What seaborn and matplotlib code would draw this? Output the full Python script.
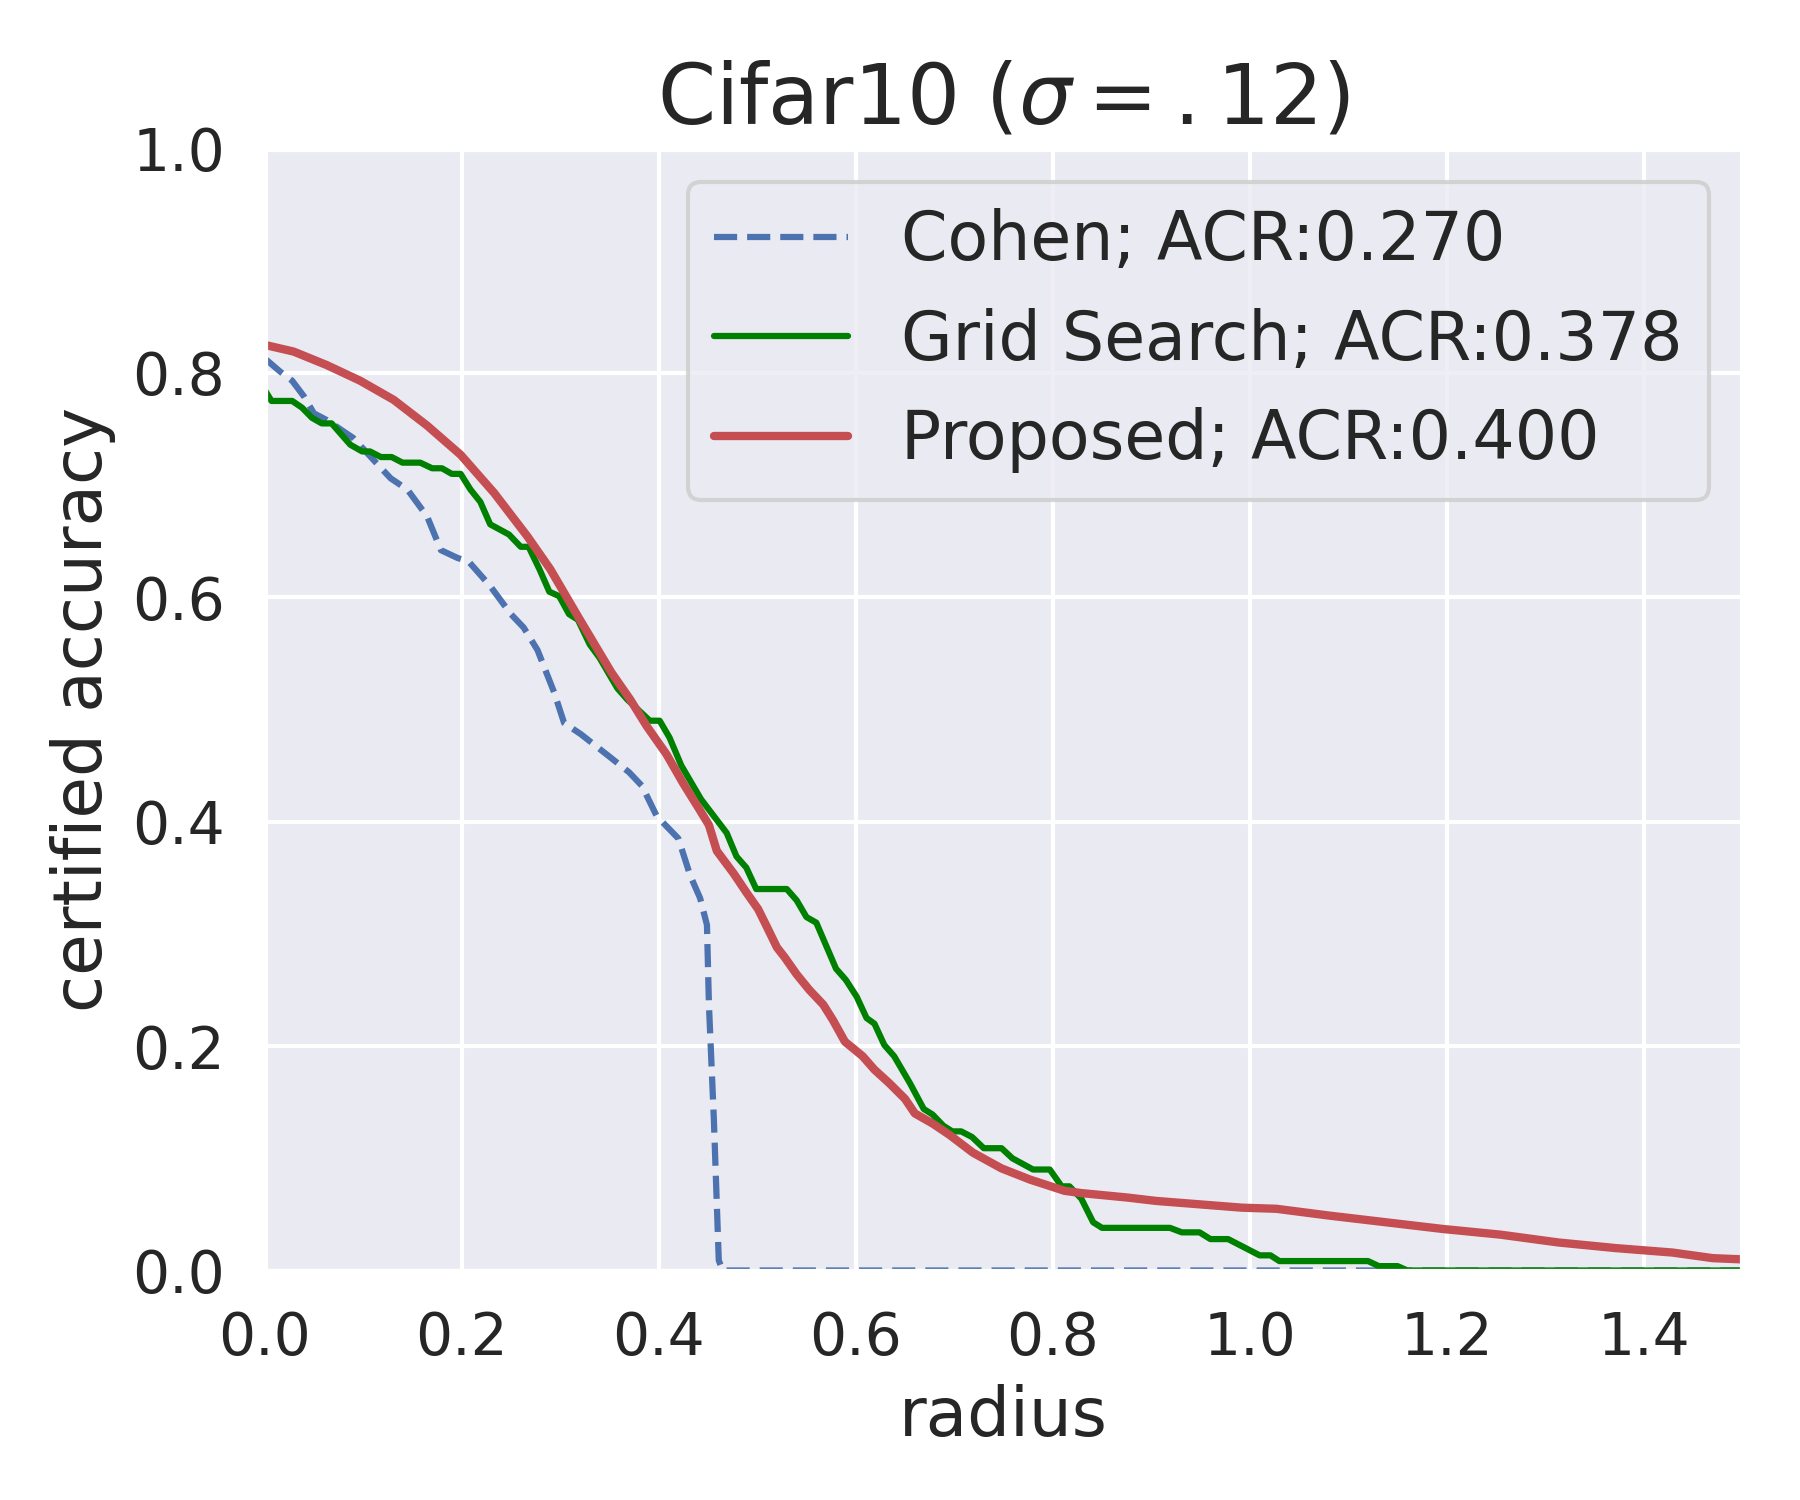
import numpy as np
import pandas as pd
import matplotlib
matplotlib.use("Agg")
import matplotlib.pyplot as plt
import seaborn as sns

# ---- data ----
cohen_x = [0.0, 0.016, 0.028, 0.04, 0.05, 0.063, 0.09, 0.111, 0.128, 0.145, 0.165, 0.179,
           0.196, 0.207, 0.229, 0.25, 0.263, 0.277, 0.294, 0.304, 0.321, 0.350, 0.370,
           0.383, 0.398, 0.42, 0.432, 0.442, 0.449, 0.451, 0.456, 0.461, 0.465, 1.5]
cohen_y = [0.813, 0.801, 0.793, 0.779, 0.764, 0.758, 0.742, 0.722, 0.706, 0.696, 0.672, 0.642,
           0.635, 0.632, 0.610, 0.585, 0.573, 0.553, 0.515, 0.488, 0.478, 0.458, 0.444,
           0.432, 0.405, 0.385, 0.352, 0.332, 0.308, 0.237, 0.135, 0.009, 0.0, 0.0]

grid_x = [0.0, 0.007, 0.028, 0.038, 0.048, 0.058, 0.068, 0.087, 0.099, 0.107, 0.118, 0.129,
          0.14, 0.158, 0.17, 0.18, 0.19, 0.199, 0.209, 0.219, 0.229, 0.248, 0.26, 0.268,
          0.279, 0.289, 0.299, 0.309, 0.318, 0.33, 0.34, 0.358, 0.368, 0.391, 0.401, 0.411,
          0.423, 0.443, 0.469, 0.479, 0.489, 0.499, 0.53, 0.54, 0.55, 0.56, 0.58, 0.59,
          0.601, 0.611, 0.619, 0.629, 0.639, 0.655, 0.669, 0.678, 0.689, 0.698, 0.707,
          0.718, 0.73, 0.748, 0.759, 0.78, 0.797, 0.809, 0.817, 0.829, 0.841, 0.85, 0.919,
          0.931, 0.949, 0.96, 0.978, 1.01, 1.021, 1.03, 1.12, 1.131, 1.15, 1.16, 1.5]
grid_y = [0.785, 0.775, 0.775, 0.769, 0.760, 0.755, 0.755, 0.736, 0.730, 0.730, 0.725, 0.725,
          0.72, 0.72, 0.715, 0.715, 0.71, 0.71, 0.696, 0.685, 0.665, 0.656, 0.645, 0.645,
          0.625, 0.605, 0.601, 0.585, 0.58, 0.558, 0.546, 0.519, 0.509, 0.49, 0.49, 0.475,
          0.45, 0.42, 0.39, 0.369, 0.359, 0.34, 0.34, 0.33, 0.315, 0.31, 0.269, 0.259,
          0.244, 0.225, 0.22, 0.201, 0.191, 0.167, 0.144, 0.139, 0.129, 0.124, 0.124,
          0.119, 0.109, 0.109, 0.10, 0.09, 0.09, 0.075, 0.075, 0.064, 0.043, 0.038, 0.038,
          0.034, 0.034, 0.028, 0.028, 0.0135, 0.0135, 0.0084, 0.0084, 0.0039, 0.0039, 0.0, 0.0]

prop_x = [0.0, 0.0295, 0.063, 0.097, 0.131, 0.165, 0.199, 0.233, 0.267, 0.290, 0.318, 0.352,
          0.371, 0.388, 0.408, 0.425, 0.442, 0.451, 0.459, 0.476, 0.489, 0.501, 0.51, 0.52,
          0.528, 0.54, 0.553, 0.567, 0.577, 0.589, 0.607, 0.619, 0.634, 0.65, 0.66, 0.678,
          0.695, 0.719, 0.748, 0.777, 0.812, 0.829, 0.876, 0.905, 0.934, 0.992, 1.027,
          1.08, 1.138, 1.196, 1.254, 1.313, 1.371, 1.429, 1.47, 1.5]
prop_y = [0.825, 0.819, 0.807, 0.793, 0.776, 0.753, 0.727, 0.693, 0.654, 0.625, 0.583, 0.533,
          0.509, 0.485, 0.46, 0.434, 0.41, 0.397, 0.374, 0.354, 0.337, 0.322, 0.306, 0.288,
          0.279, 0.264, 0.25, 0.237, 0.223, 0.204, 0.191, 0.179, 0.167, 0.153, 0.14, 0.131,
          0.121, 0.105, 0.091, 0.081, 0.071, 0.069, 0.065, 0.062, 0.060, 0.056, 0.055,
          0.049, 0.043, 0.037, 0.032, 0.025, 0.020, 0.016, 0.011, 0.0099]

labels = ["Cohen; ACR:0.270", "Grid Search; ACR:0.378", "Proposed; ACR:0.400"]
x_ticks = [0.0, 0.2, 0.4, 0.6, 0.8, 1.0, 1.2, 1.4]
y_ticks = [0.0, 0.2, 0.4, 0.6, 0.8, 1.0]

sns.set_theme(style="darkgrid")
plt.rcParams['font.family'] = ['DejaVu Sans']

fig, ax = plt.subplots(figsize=(6, 5), dpi=300)
fig.subplots_adjust(left=0.147, right=0.968, bottom=0.153, top=0.901)

sns.lineplot(x=cohen_x, y=cohen_y, ax=ax, sort=False, estimator=None,
             color="#4c72b0", linestyle="--", linewidth=1.5, label=labels[0])
sns.lineplot(x=grid_x, y=grid_y, ax=ax, sort=False, estimator=None,
             color="green", linewidth=1.5, label=labels[1])
sns.lineplot(x=prop_x, y=prop_y, ax=ax, sort=False, estimator=None,
             color="#c44e52", linewidth=2.0, label=labels[2])

ax.set_xlim(0, 1.5)
ax.set_ylim(0, 1.0)
ax.set_xticks(x_ticks)
ax.set_yticks(y_ticks)
ax.tick_params(labelsize=14)
ax.set_xlabel("radius", fontsize=16.2)
ax.set_ylabel("certified accuracy", fontsize=16.2)
ax.set_title(r"Cifar10 ($\sigma = .12$)", fontsize=20)
ax.legend(loc="upper right", fontsize=16)

fig.savefig("out.png", dpi=300)
